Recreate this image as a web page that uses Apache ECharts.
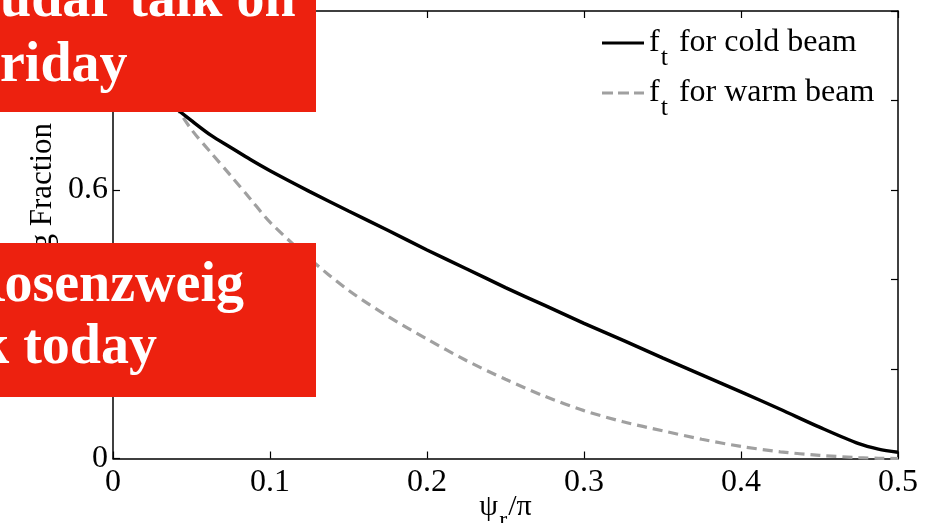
<!DOCTYPE html>
<html>
<head>
<meta charset="utf-8">
<script src="https://cdn.jsdelivr.net/npm/echarts@6/dist/echarts.min.js"></script>
<style>
  html, body { margin: 0; padding: 0; background: #fff; }
  #chart { width: 944px; height: 523px; }
</style>
</head>
<body>
<div id="chart"></div>
<script>
// Synchronous phase (in units of pi) and trapping fractions
const psiOverPi = [0, 0.0125, 0.025, 0.0375, 0.05, 0.0625, 0.075, 0.0875, 0.1,
                   0.125, 0.15, 0.175, 0.2, 0.225, 0.25, 0.275, 0.3, 0.325, 0.35, 0.375, 0.4, 0.425, 0.45, 0.475,
                   0.4875, 0.5];
const coldBeam = [1.0, 0.88, 0.83, 0.79, 0.755, 0.722, 0.695, 0.668, 0.643,
                  0.597, 0.553, 0.51, 0.466, 0.424, 0.382, 0.342, 0.302, 0.264, 0.225, 0.187, 0.149, 0.110, 0.070, 0.033,
                  0.021, 0.014];
const warmBeam = [1.0, 0.93, 0.865, 0.80, 0.735, 0.683, 0.632, 0.580, 0.528,
                  0.447, 0.376, 0.318, 0.267, 0.219, 0.177, 0.139, 0.107, 0.082, 0.062, 0.043, 0.027, 0.015, 0.007, 0.002,
                  0.0005, 0.0];
const xTicks = [0, 0.1, 0.2, 0.3, 0.4, 0.5];
const yTicks = [0, 0.2, 0.4, 0.6, 0.8, 1];
const seriesNames = ['cold', 'warm'];
const legendLabels = { cold: 'for cold beam', warm: 'for warm beam' };
const noticeLines = [['udar talk on', 'riday'], ['Rosenzweig', 'k today']];

const SERIF = '"Liberation Serif", "Times New Roman", serif';
const RED = '#ed210f';
const GREY = '#a0a0a0';

const chart = echarts.init(document.getElementById('chart'), null, { renderer: 'canvas' });

const pairs = (ys) => psiOverPi.map((x, i) => [x, ys[i]]);

const axisLine = { show: true, onZero: false, lineStyle: { color: '#000', width: 1.5 } };
const axisTick = { show: true, inside: true, length: 7, lineStyle: { color: '#000', width: 1.2 } };

const noticeText = (text, x, y) => ({
  type: 'text', x: x, y: y, z: 101,
  style: { text: text, fill: '#fff', font: 'bold 56px ' + SERIF, verticalAlign: 'middle', align: 'left' }
});

chart.setOption({
  backgroundColor: '#fff',
  animation: false,
  grid: { left: 113, right: 46, top: 11, bottom: 64.5, containLabel: false, outerBoundsMode: 'none' },
  legend: {
    orient: 'vertical',
    left: 602, top: 27, padding: 0,
    itemWidth: 42, itemHeight: 3, itemGap: 6,
    data: [
      { name: seriesNames[0], icon: 'rect' },
      { name: seriesNames[1], icon: 'path://M0,0h11v3h-11z M16,0h11v3h-11z M32,0h10v3h-10z' }
    ],
    formatter: (name) => '{m|f}{s|t}{m| ' + legendLabels[name] + '}',
    textStyle: {
      color: '#000', fontFamily: SERIF, fontSize: 32,
      rich: {
        m: { fontFamily: SERIF, fontSize: 32, lineHeight: 32, verticalAlign: 'top', color: '#000' },
        s: { fontFamily: SERIF, fontSize: 26, lineHeight: 26, verticalAlign: 'top', padding: [18, 3, 0, 1], color: '#000' }
      }
    }
  },
  xAxis: [{
    type: 'value', min: xTicks[0], max: xTicks[xTicks.length - 1], interval: xTicks[1] - xTicks[0],
    position: 'bottom',
    axisLine: axisLine, axisTick: axisTick, splitLine: { show: false },
    axisLabel: { color: '#000', fontFamily: SERIF, fontSize: 32, margin: 8 },
    name: '{m|ψ}{s|r}{m|/π}', nameLocation: 'middle', nameGap: 34, nameMoveOverlap: false,
    nameTextStyle: {
      color: '#000', fontFamily: SERIF, fontSize: 30,
      rich: {
        m: { fontFamily: SERIF, fontSize: 30, lineHeight: 30, verticalAlign: 'top', color: '#000' },
        s: { fontFamily: SERIF, fontSize: 24, lineHeight: 24, verticalAlign: 'top', padding: [16, 1, 0, 1], color: '#000' }
      }
    }
  }, {
    type: 'value', min: xTicks[0], max: xTicks[xTicks.length - 1], interval: xTicks[1] - xTicks[0],
    position: 'top',
    axisLine: axisLine, axisTick: axisTick, splitLine: { show: false }, axisLabel: { show: false }
  }],
  yAxis: [{
    type: 'value', min: yTicks[0], max: yTicks[yTicks.length - 1], interval: yTicks[1] - yTicks[0],
    position: 'left',
    axisLine: axisLine, axisTick: axisTick, splitLine: { show: false },
    axisLabel: { color: '#000', fontFamily: SERIF, fontSize: 32, margin: 5 },
    name: 'Trapping Fraction', nameLocation: 'middle', nameGap: 55, nameRotate: 90, nameMoveOverlap: false,
    nameTextStyle: { color: '#000', fontFamily: SERIF, fontSize: 31 }
  }, {
    type: 'value', min: yTicks[0], max: yTicks[yTicks.length - 1], interval: yTicks[1] - yTicks[0],
    position: 'right',
    axisLine: axisLine, axisTick: axisTick, splitLine: { show: false }, axisLabel: { show: false }
  }],
  series: [{
    name: 'cold', type: 'line', xAxisIndex: 0, yAxisIndex: 0,
    data: pairs(coldBeam), showSymbol: false, symbol: 'none', smooth: 0.3, z: 3,
    lineStyle: { color: '#000', width: 3.5 }, itemStyle: { color: '#000' }
  }, {
    name: 'warm', type: 'line', xAxisIndex: 0, yAxisIndex: 0,
    data: pairs(warmBeam), showSymbol: false, symbol: 'none', smooth: 0.3, z: 2,
    lineStyle: { color: GREY, width: 3.2, type: [10, 6] }, itemStyle: { color: GREY }
  }],
  graphic: [
    { type: 'rect', z: 100, shape: { x: -10, y: -10, width: 326, height: 122 }, style: { fill: RED } },
    noticeText(noticeLines[0][0], 0, 1.5),
    noticeText(noticeLines[0][1], 0, 66.5),
    { type: 'rect', z: 100, shape: { x: -10, y: 243, width: 326, height: 154 }, style: { fill: RED } },
    noticeText(noticeLines[1][0], -36, 286.5),
    noticeText(noticeLines[1][1], -22, 348.5)
  ]
});
</script>
</body>
</html>
